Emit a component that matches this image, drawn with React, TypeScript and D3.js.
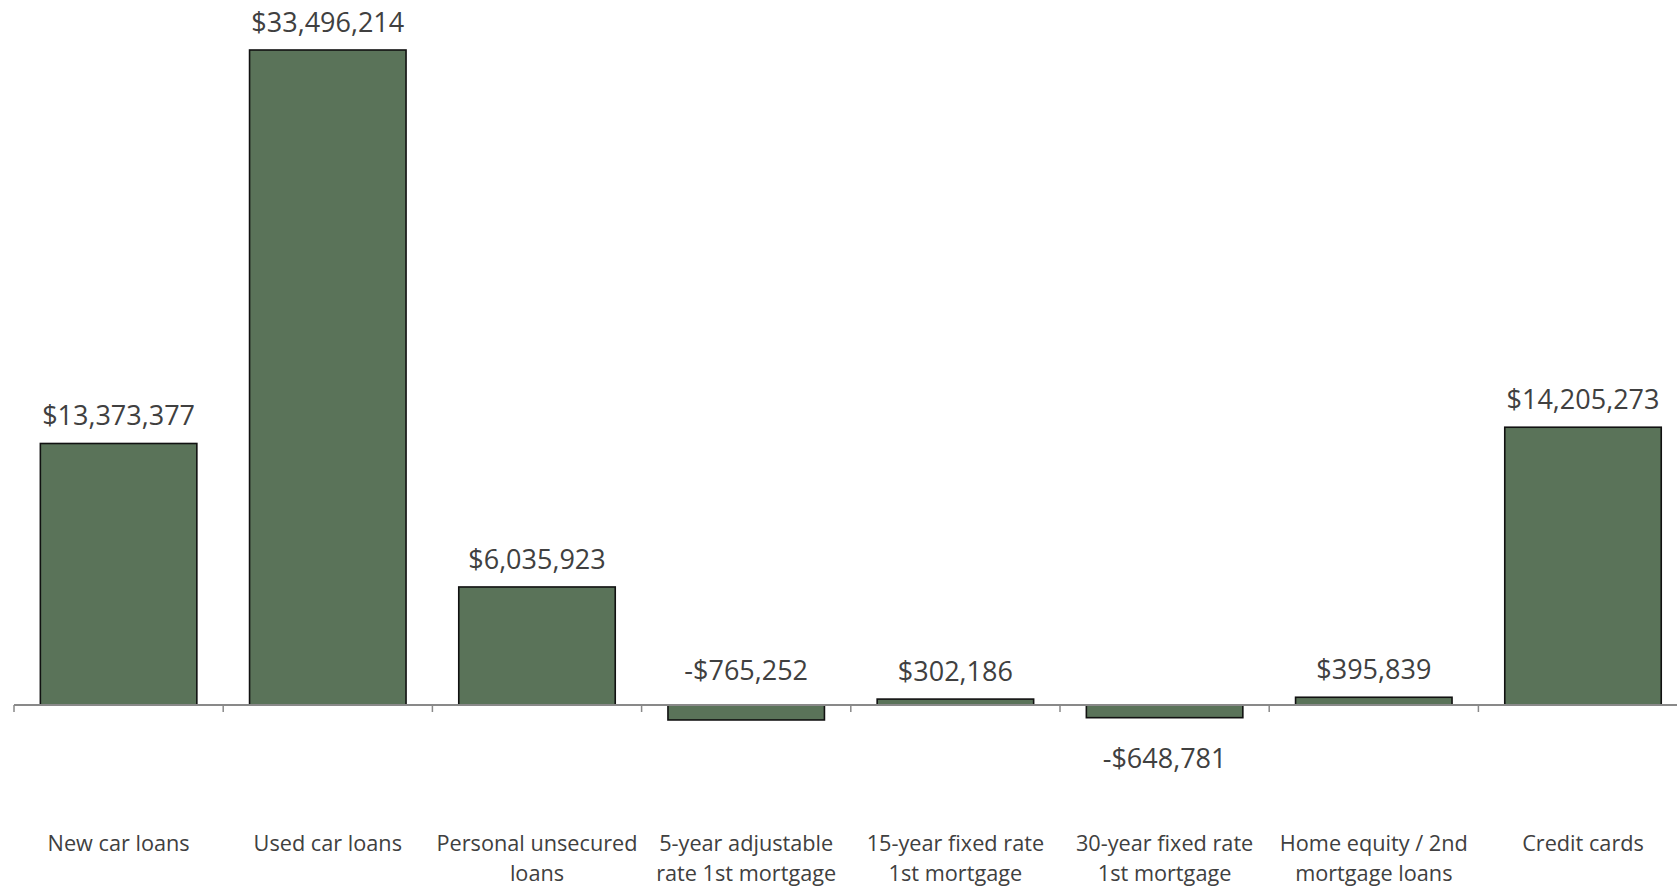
import React from "react";
import * as d3 from "d3";

const categories: string[] = [
  "New car loans",
  "Used car loans",
  "Personal unsecured\nloans",
  "5-year adjustable\nrate 1st mortgage",
  "15-year fixed rate\n1st mortgage",
  "30-year fixed rate\n1st mortgage",
  "Home equity / 2nd\nmortgage loans",
  "Credit cards",
];

const values: number[] = [
  13373377, 33496214, 6035923, -765252, 302186, -648781, 395839, 14205273,
];

// categories whose value label sits below the axis
const labelsBelow: string[] = ["30-year fixed rate\n1st mortgage"];

const W = 1677;
const H = 888;
const FONT = "'Open Sans', 'Noto Sans', sans-serif";
const TEXT = "#404040";
const BAR = "#5a7359";

const fmt = (v: number) => (v < 0 ? "-" : "") + "$" + d3.format(",")(Math.abs(v));

export default function App() {
  const plotLeft = 14;
  const step = 209.2;
  const plotRight = plotLeft + step * categories.length;

  const x = d3
    .scaleBand<string>()
    .domain(categories)
    .range([plotLeft, plotRight])
    .paddingInner(0.252)
    .paddingOuter(0.126);

  // zero at y=705, 33,496,214 at y=50
  const y = d3.scaleLinear().domain([0, 33496214]).range([705, 50]);

  const y0 = y(0);

  return (
    <svg
      width={W}
      height={H}
      style={{ position: "absolute", left: 0, top: 0, background: "#fff" }}
      fontFamily={FONT}
    >
      {categories.map((c, i) => {
        const v = values[i];
        const top = y(Math.max(0, v));
        const bottom = y(Math.min(0, v));
        return (
          <rect
            key={"b" + i}
            x={x(c)!}
            y={top}
            width={x.bandwidth()}
            height={bottom - top}
            fill={BAR}
            stroke="#111"
            strokeWidth={1.6}
          />
        );
      })}

      {/* axis */}
      <line x1={plotLeft} x2={plotRight} y1={y0} y2={y0} stroke="#898989" strokeWidth={2.2} />
      {d3.range(categories.length + 1).map((i) => {
        const tx = plotLeft + i * x.step();
        return (
          <line key={"t" + i} x1={tx} x2={tx} y1={y0} y2={y0 + 7} stroke="#898989" strokeWidth={1.5} />
        );
      })}

      {/* value labels */}
      {categories.map((c, i) => {
        const v = values[i];
        const cx = x(c)! + x.bandwidth() / 2;
        let by: number;
        if (labelsBelow.includes(c)) {
          by = y(Math.min(0, v)) + 50;
        } else if (v < 0) {
          by = y0 - 25;
        } else {
          by = y(v) - 18;
        }
        return (
          <text key={"l" + i} x={cx} y={by} textAnchor="middle" fontSize={27} fill={TEXT}>
            {fmt(v)}
          </text>
        );
      })}

      {/* category labels */}
      {categories.map((c, i) => {
        const cx = x(c)! + x.bandwidth() / 2;
        const lines = c.split("\n");
        return (
          <text key={"c" + i} x={cx} y={851} textAnchor="middle" fontSize={21.7} fill={TEXT}>
            {lines.map((ln, j) => (
              <tspan key={j} x={cx} dy={j === 0 ? 0 : 30}>
                {ln}
              </tspan>
            ))}
          </text>
        );
      })}
    </svg>
  );
}
